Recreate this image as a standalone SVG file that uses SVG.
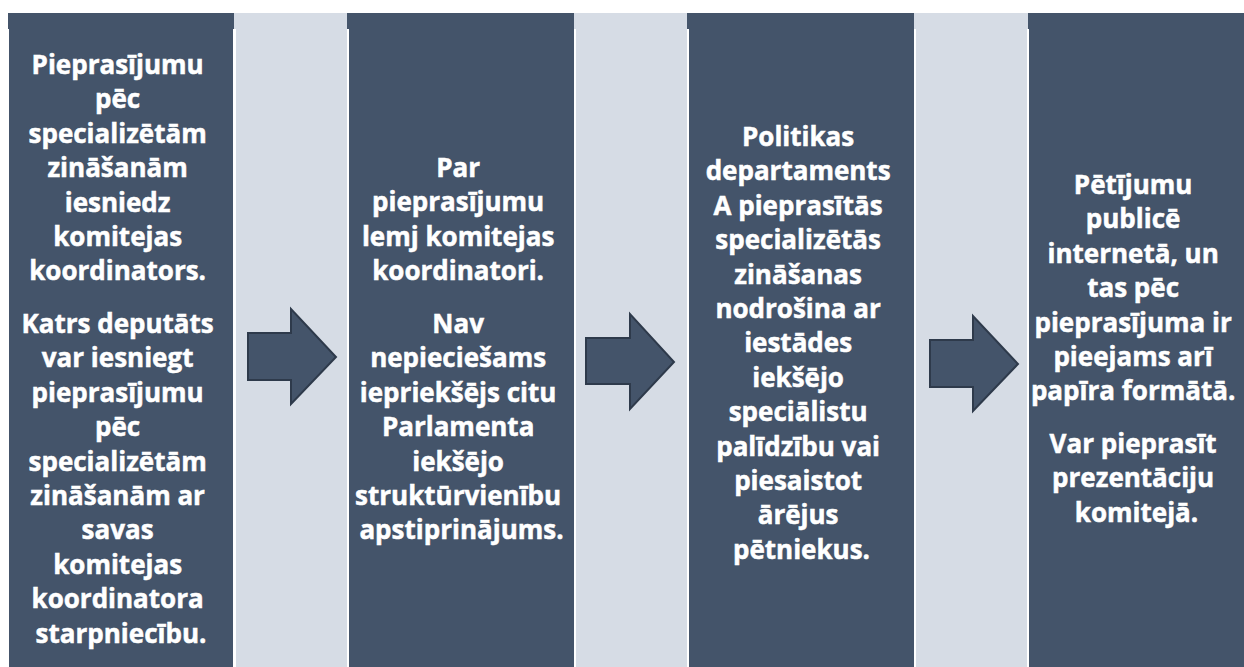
<svg xmlns="http://www.w3.org/2000/svg" width="1244" height="667" viewBox="0 0 1244 667">
<style>
.dark{fill:#44546A}
.light{fill:#D6DCE5}
.t{font-family:"Open Sans","Noto Sans","Liberation Sans",sans-serif;font-weight:bold;font-size:26px;fill:#FFFFFF;stroke:#FFFFFF;stroke-width:0.5;text-anchor:middle}
.arrow{fill:#44546A;stroke:#2E3A4B;stroke-width:2;stroke-linejoin:miter}
</style>
<rect x="0" y="0" width="1244" height="667" fill="#FFFFFF"/>
<g id="top-band">
<rect class="dark" x="8" y="13" width="226" height="16"/>
<rect class="light" x="234" y="13" width="113" height="16"/>
<rect class="dark" x="347" y="13" width="227" height="16"/>
<rect class="light" x="574" y="13" width="113" height="16"/>
<rect class="dark" x="687" y="13" width="227" height="16"/>
<rect class="light" x="914" y="13" width="114" height="16"/>
<rect class="dark" x="1028" y="13" width="216" height="16"/>
</g>
<g id="gaps">
<rect class="light" x="236" y="29" width="111" height="638"/>
<rect class="light" x="576" y="29" width="111" height="638"/>
<rect class="light" x="916" y="29" width="111" height="638"/>
</g>
<g id="step1">
<rect class="dark" x="9" y="29" width="224" height="638"/>
<text class="t" x="121">
<tspan x="121" y="74">Pieprasījumu</tspan>
<tspan x="121" y="108.4">pēc</tspan>
<tspan x="121" y="142.8">specializētām</tspan>
<tspan x="121" y="177.2">zināšanām</tspan>
<tspan x="121" y="211.6">iesniedz</tspan>
<tspan x="121" y="246">komitejas</tspan>
<tspan x="121" y="280.4">koordinators.</tspan>
<tspan x="121" y="333">Katrs deputāts</tspan>
<tspan x="121" y="367.4">var iesniegt</tspan>
<tspan x="121" y="401.8">pieprasījumu</tspan>
<tspan x="121" y="436.2">pēc</tspan>
<tspan x="121" y="470.6">specializētām</tspan>
<tspan x="121" y="505">zināšanām ar</tspan>
<tspan x="121" y="539.4">savas</tspan>
<tspan x="121" y="573.8">komitejas</tspan>
<tspan x="121" y="608.2">koordinatora</tspan>
<tspan x="121" y="642.6">starpniecību.</tspan>
</text>
</g>
<g id="step2">
<rect class="dark" x="349" y="29" width="225" height="638"/>
<text class="t" x="461.5">
<tspan x="461.5" y="177">Par</tspan>
<tspan x="461.5" y="211.4">pieprasījumu</tspan>
<tspan x="461.5" y="245.8">lemj komitejas</tspan>
<tspan x="461.5" y="280.2">koordinatori.</tspan>
<tspan x="461.5" y="333">Nav</tspan>
<tspan x="461.5" y="367.4">nepieciešams</tspan>
<tspan x="461.5" y="401.8">iepriekšējs citu</tspan>
<tspan x="461.5" y="436.2">Parlamenta</tspan>
<tspan x="461.5" y="470.6">iekšējo</tspan>
<tspan x="461.5" y="505">struktūrvienību</tspan>
<tspan x="461.5" y="539.4">apstiprinājums.</tspan>
</text>
</g>
<g id="step3">
<rect class="dark" x="689" y="29" width="225" height="638"/>
<text class="t" x="801.5">
<tspan x="801.5" y="146">Politikas</tspan>
<tspan x="801.5" y="180.4">departaments</tspan>
<tspan x="801.5" y="214.8">A pieprasītās</tspan>
<tspan x="801.5" y="249.2">specializētās</tspan>
<tspan x="801.5" y="283.6">zināšanas</tspan>
<tspan x="801.5" y="318">nodrošina ar</tspan>
<tspan x="801.5" y="352.4">iestādes</tspan>
<tspan x="801.5" y="386.8">iekšējo</tspan>
<tspan x="801.5" y="421.2">speciālistu</tspan>
<tspan x="801.5" y="455.6">palīdzību vai</tspan>
<tspan x="801.5" y="490">piesaistot</tspan>
<tspan x="801.5" y="524.4">ārējus</tspan>
<tspan x="801.5" y="558.8">pētniekus.</tspan>
</text>
</g>
<g id="step4">
<rect class="dark" x="1029" y="29" width="215" height="638"/>
<text class="t" x="1136.5">
<tspan x="1136.5" y="194">Pētījumu</tspan>
<tspan x="1136.5" y="228.4">publicē</tspan>
<tspan x="1136.5" y="262.8">internetā, un</tspan>
<tspan x="1136.5" y="297.2">tas pēc</tspan>
<tspan x="1136.5" y="331.6">pieprasījuma ir</tspan>
<tspan x="1136.5" y="366">pieejams arī</tspan>
<tspan x="1136.5" y="400.4">papīra formātā.</tspan>
<tspan x="1136.5" y="453">Var pieprasīt</tspan>
<tspan x="1136.5" y="487.4">prezentāciju</tspan>
<tspan x="1136.5" y="521.8">komitejā.</tspan>
</text>
</g>
<g id="connectors">
<path class="arrow" d="M248,333 H291 V309 L336,357 L291,404 V380 H248 Z"/>
<path class="arrow" d="M586,338 H630 V314 L674,362 L630,409 V384 H586 Z"/>
<path class="arrow" d="M930,340 H973 V316 L1018,364 L973,411 V387 H930 Z"/>
</g>
</svg>
